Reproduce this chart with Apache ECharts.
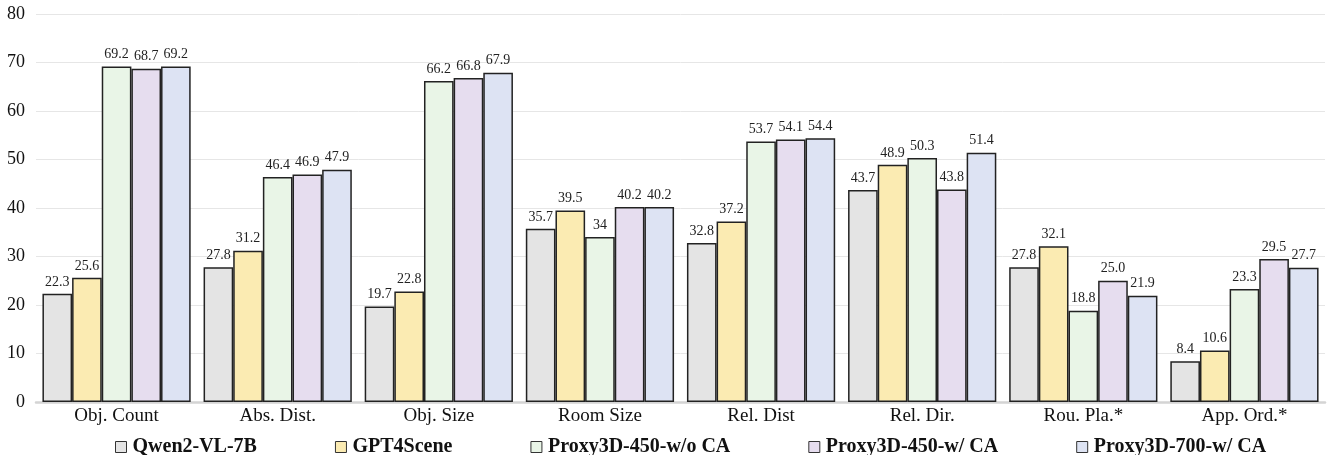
<!DOCTYPE html>
<html>
<head>
<meta charset="utf-8">
<script src="https://cdn.jsdelivr.net/npm/echarts@6/dist/echarts.min.js"></script>
<style>
  html, body { margin: 0; padding: 0; background: #fff; }
  #chart { width: 1330px; height: 455px; }
</style>
</head>
<body>
<div id="chart"></div>
<script>
var categories = ['Obj. Count', 'Abs. Dist.', 'Obj. Size', 'Room Size', 'Rel. Dist', 'Rel. Dir.', 'Rou. Pla.*', 'App. Ord.*'];
var seriesNames = ['Qwen2-VL-7B', 'GPT4Scene', 'Proxy3D-450-w/o CA', 'Proxy3D-450-w/ CA', 'Proxy3D-700-w/ CA'];
var qwen = [22.3, 27.8, 19.7, 35.7, 32.8, 43.7, 27.8, 8.4];
var gpt4scene = [25.6, 31.2, 22.8, 39.5, 37.2, 48.9, 32.1, 10.6];
var proxy450NoCA = [69.2, 46.4, 66.2, 34, 53.7, 50.3, 18.8, 23.3];
var proxy450CA = [68.7, 46.9, 66.8, 40.2, 54.1, 43.8, 25.0, 29.5];
var proxy700CA = [69.2, 47.9, 67.9, 40.2, 54.4, 51.4, 21.9, 27.7];
// labels as printed in the figure (one value is shown without decimal)
var proxy450NoCALabels = ['69.2', '46.4', '66.2', '34', '53.7', '50.3', '18.8', '23.3'];
var colors = ['#e4e4e4', '#fbebb2', '#e9f5e7', '#e6ddef', '#dde3f3'];

var font = '"Liberation Serif", "Times New Roman", serif';
var allData = [qwen, gpt4scene, proxy450NoCA, proxy450CA, proxy700CA];

var chart = echarts.init(document.getElementById('chart'));

var series = allData.map(function (arr, i) {
  return {
    name: seriesNames[i],
    type: 'bar',
    data: arr,
    barGap: '0%',
    barCategoryGap: '8%',
    itemStyle: { color: colors[i], borderColor: '#222', borderWidth: 1.5 },
    label: {
      show: true,
      position: 'top',
      distance: 5,
      color: '#222',
      fontFamily: font,
      fontSize: 14,
      formatter: function (p) {
        if (i === 2) return proxy450NoCALabels[p.dataIndex];
        return p.value.toFixed(1);
      }
    }
  };
});

chart.setOption({
  animation: false,
  textStyle: { fontFamily: font },
  grid: { left: 36, right: 5, top: 14, bottom: 53 },
  legend: {
    left: 110,
    top: 432,
    itemWidth: 11,
    itemHeight: 11,
    itemGap: 78,
    icon: 'rect',
    itemStyle: { borderColor: '#333', borderWidth: 1 },
    textStyle: { fontFamily: font, fontSize: 20, fontWeight: 'bold', color: '#111', padding: [0, 0, 0, 1] },
    data: seriesNames
  },
  xAxis: {
    type: 'category',
    data: categories,
    axisLine: { lineStyle: { color: '#d4d4d4', width: 2.5 } },
    axisTick: { show: false },
    axisLabel: { fontFamily: font, fontSize: 19, color: '#111', margin: 5 }
  },
  yAxis: {
    type: 'value',
    min: 0,
    max: 80,
    interval: 10,
    axisLine: { show: false },
    axisTick: { show: false },
    splitLine: { lineStyle: { color: '#e6e6e6', width: 1 } },
    axisLabel: { fontFamily: font, fontSize: 18, color: '#111', margin: 11 }
  },
  series: series
});
</script>
</body>
</html>
